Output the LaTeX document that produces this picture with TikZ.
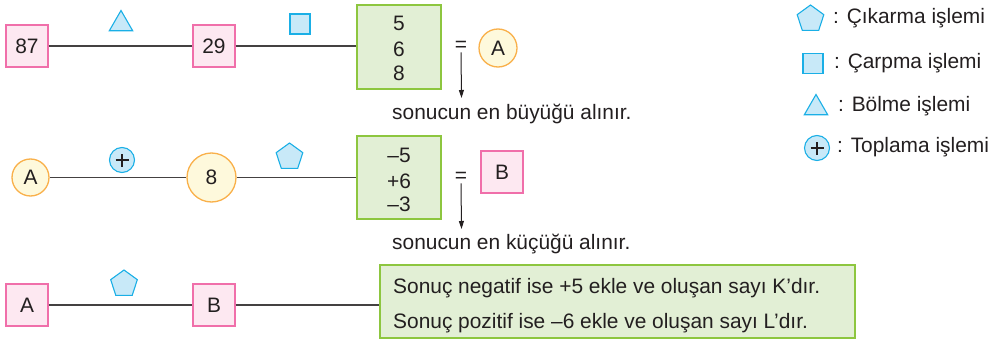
\documentclass[tikz,border=0pt]{standalone}
\usepackage{fontspec}
\setmainfont{Liberation Sans}
\usetikzlibrary{shapes.geometric,arrows.meta}
\definecolor{pinkfill}{HTML}{FDE8F1}
\definecolor{pinkline}{HTML}{F06FAA}
\definecolor{greenfill}{HTML}{E2EFD5}
\definecolor{greenline}{HTML}{8DC63F}
\definecolor{yelfill}{HTML}{FEF9DC}
\definecolor{yelline}{HTML}{F9B04A}
\definecolor{bluefill}{HTML}{C8E9F8}
\definecolor{blueline}{HTML}{1AAFE6}
\definecolor{txt}{HTML}{231F20}
\tikzset{
  every node/.style={font=\fontsize{20.9}{24}\selectfont, text=txt},
  pinkbox/.style={draw=pinkline, fill=pinkfill, line width=1.3pt, minimum width=42pt, minimum height=42pt, inner sep=0pt},
  greenbox/.style={draw=greenline, fill=greenfill, line width=1.3pt, inner sep=0pt},
  yelcirc/.style={circle, draw=yelline, fill=yelfill, line width=1.3pt, inner sep=0pt},
  pent/.style={regular polygon, regular polygon sides=5, draw=blueline, fill=bluefill, line width=1.1pt, minimum size=28pt, inner sep=0pt},
  tri/.style={regular polygon, regular polygon sides=3, draw=blueline, fill=bluefill, line width=1.1pt, minimum size=27pt, inner sep=0pt},
  sq/.style={rectangle, draw=blueline, fill=bluefill, line width=1.1pt, minimum size=20pt, inner sep=0pt},
  pluscirc/.style={circle, draw=blueline, fill=bluefill, line width=1.1pt, minimum size=25pt, inner sep=0pt,
    path picture={\draw[txt, line width=1.4pt] ([xshift=-6.5pt]path picture bounding box.center) -- ([xshift=6.5pt]path picture bounding box.center);
                  \draw[txt, line width=1.4pt] ([yshift=-6.5pt]path picture bounding box.center) -- ([yshift=6.5pt]path picture bounding box.center);}},
  link/.style={draw=txt!85, line width=1.4pt},
  downarrow/.style={draw=txt, line width=1pt, -{Triangle[length=8pt,width=5pt]}},
  lbl/.style={anchor=west, inner sep=0pt}
}
\begin{document}
\begin{tikzpicture}[x=1pt,y=-1pt]
\useasboundingbox (0,0) rectangle (996,340);

% Row 1
\node[pinkbox] (n87) at (27,46) {87};
\node[pinkbox] (n29) at (214,46) {29};
\node[greenbox, minimum width=84pt, minimum height=84pt] (g1) at (399,47) {};
\node (g1a) at (399,23) {5};
\node (g1b) at (399,49) {6};
\node (g1c) at (399,73) {8};
\draw[link] (n87) -- (n29);
\draw[link] (n29) -- (n29 -| g1.west);
\node[tri] (t1) at (121,24) {};
\node[sq] (s1) at (300,24) {};
\node[inner sep=1pt] (eq1) at (461,46) {=};
\node[yelcirc, minimum size=38pt] (cA) at (498,48) {A};
\coordinate (a1) at (461.5,98);
\draw[downarrow] (eq1.south) -- (a1);
\node[lbl] (r1) at (392,114) {sonucun en büyüğü alınır.};

% Row 2
\node[yelcirc, minimum size=37pt] (cA2) at (30.5,177.5) {A};
\node[yelcirc, minimum size=49pt] (c8) at (211.5,177.5) {8};
\node[greenbox, minimum width=84pt, minimum height=83pt] (g2) at (399,177.5) {};
\node (g2a) at (399,155) {--5};
\node (g2b) at (399,181) {+6};
\node (g2c) at (399,204) {--3};
\draw[link] (cA2) -- (c8);
\draw[link] (c8) -- (g2);
\node[pluscirc] (p1) at (122,160) {};
\node[pent] (pe1) at (289.5,157) {};
\node[inner sep=1pt] (eq2) at (461,177) {=};
\node[pinkbox, minimum width=42pt] (bB) at (502,172) {B};
\coordinate (a2) at (461.5,229);
\draw[downarrow] (eq2.south) -- (a2);
\node[lbl] (r2) at (392,244) {sonucun en küçüğü alınır.};

% Row 3
\node[pinkbox] (bA3) at (27,305) {A};
\node[pinkbox] (bB3) at (214,305) {B};
\node[greenbox, minimum width=475pt, minimum height=73pt] (g3) at (617.5,301.5) {};
\node[lbl] (g3a) at (393,288) {Sonuç negatif ise +5 ekle ve oluşan sayı K’dır.};
\node[lbl] (g3b) at (393,323) {Sonuç pozitif ise –6 ekle ve oluşan sayı L’dır.};
\draw[link] (bA3) -- (bB3);
\draw[link] (bB3) -- (bB3 -| g3.west);
\node[pent] (pe2) at (124,284) {};

% Legend
\node[pent] (lp) at (810.5,19) {};
\node[lbl] (lpt) at (833,18) {: Çıkarma işlemi};
\node[sq] (ls) at (813,63.5) {};
\node[lbl] (lst) at (834,63) {: Çarpma işlemi};
\node[tri] (lt) at (816,108) {};
\node[lbl] (ltt) at (838,106) {: Bölme işlemi};
\node[pluscirc] (lc) at (817,148) {};
\node[lbl] (lct) at (837,147) {: Toplama işlemi};
\end{tikzpicture}
\end{document}
